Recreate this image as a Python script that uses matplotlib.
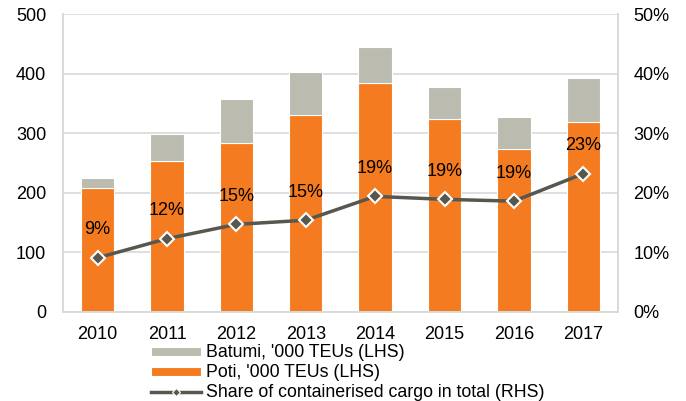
import matplotlib.pyplot as plt
from matplotlib.lines import Line2D
import numpy as np

years = ['2010', '2011', '2012', '2013', '2014', '2015', '2016', '2017']
poti = [208, 253, 284, 330, 384, 324, 273, 318]
batumi_total = [225, 299, 357, 402, 445, 378, 328, 393]
batumi = [t - p for t, p in zip(batumi_total, poti)]
share = [9.1, 12.3, 14.7, 15.4, 19.4, 18.9, 18.6, 23.2]
share_labels = ['9%', '12%', '15%', '15%', '19%', '19%', '19%', '23%']

plt.rcParams['font.family'] = ['Liberation Sans', 'DejaVu Sans']

ORANGE = '#F47B20'
GREY = '#BCBBAF'
LINE = '#575750'
GRID = '#D9D9D9'

fig = plt.figure(figsize=(6.86, 4.01), dpi=100)
ax = fig.add_axes([0.0918, 0.222, 0.809, 0.743])
x = np.arange(len(years))

ax.set_axisbelow(True)
ax.yaxis.grid(True, color=GRID, linewidth=1.2)
b1 = ax.bar(x, poti, width=0.48, color=ORANGE, edgecolor='white', linewidth=0.8)
b2 = ax.bar(x, batumi, bottom=poti, width=0.48, color=GREY, edgecolor='white',
            linewidth=0.8)
ax.set_ylim(0, 500)
ax.set_xlim(-0.5, len(years) - 0.5)
ax.set_yticks(range(0, 501, 100))
ax.set_xticks(x)
ax.set_xticklabels(years)

ax2 = ax.twinx()
ax2.plot(x, share, color=LINE, linewidth=2.5, marker='D', markersize=7,
         markerfacecolor=LINE, markeredgecolor='white', markeredgewidth=1.5)
ax2.set_ylim(0, 50)
ax2.set_yticks(range(0, 51, 10))
ax2.set_yticklabels([f'{v}%' for v in range(0, 51, 10)])
for xi, v, lab in zip(x, share, share_labels):
    ax2.annotate(lab, (xi, v), xytext=(0, 14), textcoords='offset points',
                 ha='center', va='bottom', fontsize=13, color='black')

for a in (ax, ax2):
    a.spines['top'].set_visible(False)
    for s in ('left', 'right', 'bottom'):
        a.spines[s].set_color(GRID)
        a.spines[s].set_linewidth(1.2)
    a.tick_params(length=0, labelsize=13, colors='black')
ax.tick_params(axis='x', pad=10)
ax.tick_params(axis='y', pad=12)
ax2.tick_params(axis='y', pad=11)

ln = Line2D([], [], color=LINE, linewidth=2.5, marker='D', markersize=4,
            markerfacecolor=LINE, markeredgecolor='white', markeredgewidth=0.8)
fig.legend([b2, b1, ln],
           ["Batumi, '000 TEUs (LHS)", "Poti, '000 TEUs (LHS)",
            'Share of containerised cargo in total (RHS)'],
           loc='upper left', bbox_to_anchor=(0.215, 0.15), frameon=False,
           fontsize=12.8, handlelength=2.8, handleheight=0.4, labelspacing=0.17,
           handletextpad=0.3, borderaxespad=0, borderpad=0.2)

fig.savefig('out.png', dpi=100)
